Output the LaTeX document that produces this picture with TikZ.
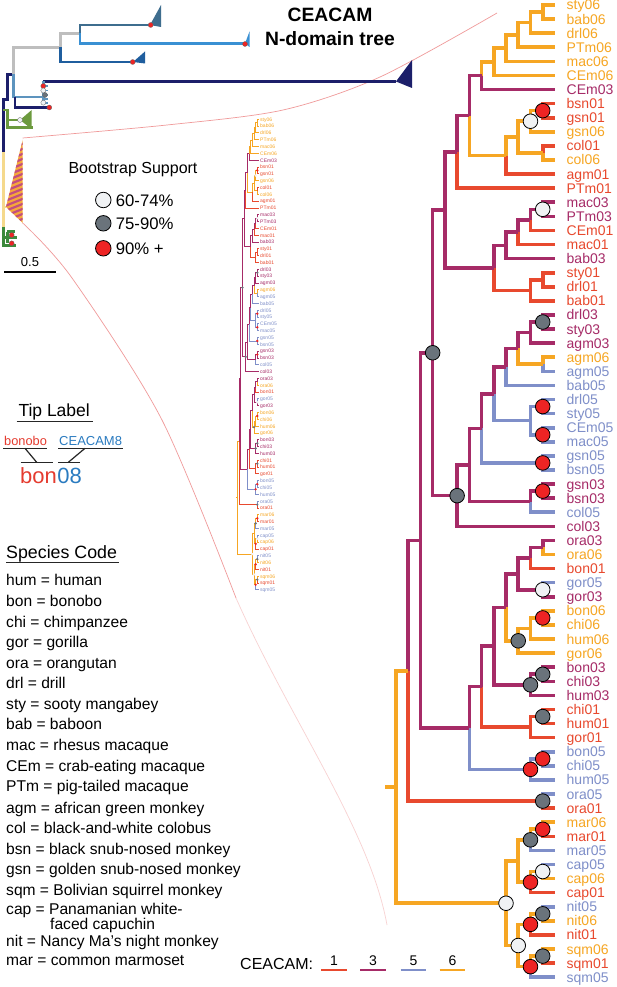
\documentclass[tikz,border=0pt]{standalone}
\usepackage{fontspec}
\setmainfont{Liberation Sans}
\usetikzlibrary{calc}
\definecolor{c1}{HTML}{E8492E}
\definecolor{c3}{HTML}{A62B67}
\definecolor{c5}{HTML}{7F8FC9}
\definecolor{c6}{HTML}{F6A623}
\definecolor{bsR}{HTML}{EE2424}
\definecolor{bsG}{HTML}{6A737B}
\definecolor{bsW}{HTML}{F0F2F4}
\definecolor{legR}{HTML}{E53B2F}
\definecolor{legB}{HTML}{2A7BC0}
\definecolor{pinkln}{HTML}{F09A9A}
\definecolor{ovGray}{HTML}{BEBEBE}
\definecolor{ovTeal}{HTML}{3E6D8E}
\definecolor{ovLBlue}{HTML}{3990D3}
\definecolor{ovMBlue}{HTML}{1F5E9E}
\definecolor{ovNavy}{HTML}{1C1F6A}
\definecolor{ovSteel}{HTML}{5D94BE}
\definecolor{ovGreen}{HTML}{6C9A3E}
\definecolor{ovDGreen}{HTML}{3C8A3C}
\definecolor{ovYel}{HTML}{F5D98C}
\definecolor{stO}{HTML}{F6A83A}
\definecolor{stP}{HTML}{C24E80}
\tikzset{
 branch/.style={line width=3.6pt},
 tiplab/.style={font=\fontsize{14}{16}\selectfont, anchor=base west, inner sep=0pt},
 bootc/.style={circle, draw=black, line width=0.8pt, minimum size=14.6pt, inner sep=0pt},
 ov/.style={line width=2.6pt},
 odot/.style={circle, draw=black!60, line width=0.3pt, minimum size=5pt, inner sep=0pt},
 zoomln/.style={draw=pinkln, line width=0.7pt},
 ulin/.style={draw=black!85, line width=1.2pt},
 spc/.style={font=\fontsize{15.6}{18}\selectfont, anchor=base west, inner sep=0pt},
}
\newcommand\treedata{%
 \foreach \tn/\ti/\tc in {sty06/0/c6, bab06/1/c6, drl06/2/c6, PTm06/3/c6, mac06/4/c6, CEm06/5/c6, CEm03/6/c3, bsn01/7/c1, gsn01/8/c1, gsn06/9/c6, col01/10/c1, col06/11/c6, agm01/12/c1, PTm01/13/c1, mac03/14/c3, PTm03/15/c3, CEm01/16/c1, mac01/17/c1, bab03/18/c3, sty01/19/c1, drl01/20/c1, bab01/21/c1, drl03/22/c3, sty03/23/c3, agm03/24/c3, agm06/25/c6, agm05/26/c5, bab05/27/c5, drl05/28/c5, sty05/29/c5, CEm05/30/c5, mac05/31/c5, gsn05/32/c5, bsn05/33/c5, gsn03/34/c3, bsn03/35/c3, col05/36/c5, col03/37/c3, ora03/38/c3, ora06/39/c6, bon01/40/c1, gor05/41/c5, gor03/42/c3, bon06/43/c6, chi06/44/c6, hum06/45/c6, gor06/46/c6, bon03/47/c3, chi03/48/c3, hum03/49/c3, chi01/50/c1, hum01/51/c1, gor01/52/c1, bon05/53/c5, chi05/54/c5, hum05/55/c5, ora05/56/c5, ora01/57/c1, mar06/58/c6, mar01/59/c1, mar05/60/c5, cap05/61/c5, cap06/62/c6, cap01/63/c1, nit05/64/c5, nit06/65/c6, nit01/66/c1, sqm06/67/c6, sqm01/68/c1, sqm05/69/c5}{%
  \coordinate (\tn) at (\TRtip,{\TRy+\TRdy*\ti});
  \node[tiplab,text=\tc] (L\tn) at (\TRlab,{\TRy+\TRdy*\ti+\TRldy}) {\tn};
 }
 \foreach \nn/\nl/\ni in {n1/12/0.5, n2/11/1.25, n3/10/2.125, n4/9/3.0625, n5/8/4.03125, n6/7/5.015625, n8/12/7.5, n9/11/8.25, n10/12/10.5, n11/10/9.375, n12/9/10.6875, n7/6/7.8515625, n13/5/10.42578, n15/12/14.5, n16/11/15.25, n17/10/16.125, n18/9/17.0625, n19/12/19.5, n20/11/20.25, n21/8/18.65625, n14/4/14.54102, n23/12/22.5, n24/11/23.25, n25/12/25.5, n26/10/24.375, n27/9/25.6875, n28/12/28.5, n29/12/30.5, n30/11/29.5, n31/8/27.59375, n32/12/32.5, n33/7/30.046875, n34/12/34.5, n35/11/35.25, n36/6/32.6484, n37/5/34.8242, n22/3/24.6826, n40/12/38.5, n41/11/39.25, n42/12/41.5, n43/10/40.375, n44/12/43.5, n45/11/44.25, n46/10/45.125, n47/9/42.75, n48/12/47.5, n49/11/48.25, n50/8/45.5, n51/12/50.5, n52/11/51.25, n53/7/48.375, n54/12/53.5, n55/11/54.25, n39/6/51.3125, n38/2/37.9976, n56/12/56.5, n57/1/47.2488, n59/12/58.5, n60/11/59.25, n61/12/61.5, n62/11/62.25, n63/10/60.75, n64/12/64.5, n65/11/65.25, n66/12/67.5, n67/11/68.25, n68/10/66.75, n69/9/63.75, n58/0/55.4994}{%
  \coordinate (\nn) at ({\TRx+\TRdx*\nl},{\TRy+\TRdy*\ni});
 }
 \coordinate (stub) at ({\TRx-0.9*\TRdx},{\TRy+\TRdy*55.4994});
 \draw[branch,c6] (stub) -- (n58);
 \foreach \bc/\bp/\bq in {c6/n1/sty06, c6/n1/bab06, c6/n2/n1, c6/n2/drl06, c6/n3/n2, c6/n3/PTm06, c6/n4/n3, c6/n4/mac06, c6/n5/n4, c6/n5/CEm06, c6/n6/n5, c3/n6/CEm03,
 c1/n8/bsn01, c1/n8/gsn01, c6/n9/n8, c6/n9/gsn06, c1/n10/col01, c6/n10/col06, c6/n11/n9, c6/n11/n10, c6/n12/n11, c1/n12/agm01, c3/n7/n6, c6/n7/n12, c3/n13/n7, c1/n13/PTm01,
 c3/n15/mac03, c3/n15/PTm03, c3/n16/n15, c1/n16/CEm01, c3/n17/n16, c1/n17/mac01, c3/n18/n17, c3/n18/bab03, c1/n19/sty01, c1/n19/drl01, c1/n20/n19, c1/n20/bab01, c3/n21/n18, c1/n21/n20, c3/n14/n13, c3/n14/n21,
 c3/n23/drl03, c3/n23/sty03, c3/n24/n23, c3/n24/agm03, c6/n25/agm06, c5/n25/agm05, c3/n26/n24, c6/n26/n25, c3/n27/n26, c5/n27/bab05, c5/n28/drl05, c5/n28/sty05, c5/n29/CEm05, c5/n29/mac05, c5/n30/n28, c5/n30/n29, c3/n31/n27, c5/n31/n30, c5/n32/gsn05, c5/n32/bsn05, c3/n33/n31, c5/n33/n32, c3/n34/gsn03, c3/n34/bsn03, c3/n35/n34, c5/n35/col05, c3/n36/n33, c3/n36/n35, c3/n37/n36, c3/n37/col03, c3/n22/n14, c3/n22/n37,
 c3/n40/ora03, c6/n40/ora06, c3/n41/n40, c1/n41/bon01, c5/n42/gor05, c3/n42/gor03, c3/n43/n41, c3/n43/n42, c6/n44/bon06, c6/n44/chi06, c6/n45/n44, c6/n45/hum06, c6/n46/n45, c6/n46/gor06, c3/n47/n43, c6/n47/n46, c3/n48/bon03, c3/n48/chi03, c3/n49/n48, c3/n49/hum03, c3/n50/n47, c3/n50/n49, c1/n51/chi01, c1/n51/hum01, c1/n52/n51, c1/n52/gor01, c3/n53/n50, c1/n53/n52, c5/n54/bon05, c5/n54/chi05, c5/n55/n54, c5/n55/hum05, c3/n39/n53, c5/n39/n55, c3/n38/n22, c3/n38/n39,
 c5/n56/ora05, c1/n56/ora01, c3/n57/n38, c1/n57/n56,
 c6/n59/mar06, c1/n59/mar01, c6/n60/n59, c5/n60/mar05, c5/n61/cap05, c6/n61/cap06, c6/n62/n61, c1/n62/cap01, c6/n63/n60, c6/n63/n62, c5/n64/nit05, c6/n64/nit06, c6/n65/n64, c1/n65/nit01, c6/n66/sqm06, c1/n66/sqm01, c6/n67/n66, c5/n67/sqm05, c6/n68/n65, c6/n68/n67, c6/n69/n63, c6/n69/n68, c6/n58/n57, c6/n58/n69}{%
  \draw[branch,\bc] (\bp) |- (\bq);
 }
 \foreach \bk/\bn in {bsR/n8, bsW/n9, bsW/n15, bsG/n23, bsR/n28, bsR/n29, bsR/n32, bsR/n34, bsG/n37, bsG/n22, bsW/n42, bsR/n44, bsG/n46, bsG/n48, bsG/n49, bsG/n51, bsR/n54, bsR/n55, bsG/n56, bsR/n59, bsG/n60, bsW/n61, bsR/n62, bsG/n64, bsR/n65, bsG/n66, bsR/n67, bsW/n68, bsW/n69}{%
  \node[bootc,fill=\bk] at (\bn) {};
 }
}
\begin{document}
\begin{tikzpicture}[x=1pt,y=-1pt]
\useasboundingbox (0,0) rectangle (617,987);
\fill[white] (0,0) rectangle (617,987);

% zoom connector arcs
\draw[zoomln] plot[smooth] coordinates {(22.7,138) (167,125) (283,110) (380,77) (497,13)};
\draw[zoomln] plot[smooth] coordinates {(22.7,223) (72,278) (162,420) (236,598)};
\draw[zoomln, draw=pinkln!45] (236,598) .. controls (290,720) and (370,830) .. (387,925);

% ---------- overview tree (top left) ----------
\draw[ov,ovNavy] (3.3,152) -- (3.3,99.3) -- (7.3,99.3) -- (7.3,74.3) -- (13.3,74.3);
\draw[ov,ovGray] (13.3,74.3) -- (13.3,47.5) -- (60.7,47.5) -- (60.7,33.5) -- (80,33.5);
\draw[ov,ovTeal] (80,33.5) -- (80,25) -- (150,25);
\fill[ovTeal] (150,25) -- (161,5) -- (161,27) -- cycle;
\draw[ov,ovLBlue] (80,33.5) -- (80,43.5) -- (245,43.5);
\fill[ovLBlue] (245,43.5) -- (249.5,31.5) -- (249.5,47) -- cycle;
\draw[ov,ovMBlue] (60.7,47.5) -- (60.7,62) -- (133,62);
\fill[ovMBlue] (133,62) -- (145,51.5) -- (145,63.5) -- cycle;
\draw[ov,ovNavy] (43.3,81.5) -- (396,81.5);
\fill[ovNavy] (396,81.5) -- (412,60) -- (412,88) -- cycle;
\draw[ov,ovSteel] (13.3,74.3) -- (13.3,97) -- (43.3,97);
\draw[ov,ovSteel] (43.3,81.5) -- (43.3,103);
\foreach \yy in {86,90.5,95,99,103} {\draw[line width=1.6pt,ovSteel] (43.3,\yy) -- (47.5,\yy);}
\draw[ov,ovNavy] (15,97) -- (15,107.5) -- (49.3,107.5);
\draw[ov,ovGreen] (3.3,110) -- (7.3,110) -- (7.3,127.3) -- (33,127.3);
\draw[ov,ovGreen] (7.3,120) -- (20,120);
\fill[ovGreen] (20,120) -- (31.7,110) -- (31.7,129) -- cycle;
\draw[ov,ovYel] (3.3,152) -- (3.3,227);
\draw[ov,ovYel] (3.3,207) -- (6,207);
\begin{scope}
\clip (6,207) -- (22.7,140) -- (22.7,223) -- cycle;
\fill[stO] (0,130) rectangle (30,230);
\foreach \k in {0,...,30} {\draw[stP, line width=2.2pt] (0,{128+5*\k}) -- (30,{116+5*\k});}
\end{scope}
\draw[ov,ovDGreen] (3.3,227) -- (3.3,245.5) -- (16,245.5);
\draw[ov,ovDGreen] (3.3,237.5) -- (7.3,237.5) -- (16.7,237.5);
\draw[ov,ovDGreen] (7.3,231.7) -- (7.3,243.3);
\draw[ov,ovDGreen] (7.3,231.7) -- (15,231.7);
\foreach \px/\py/\pc in {150.7/25/bsR, 245/44/bsR, 132.7/62/bsR, 49.3/107.5/bsR, 43.3/86/bsR, 43.3/90.5/bsW, 45/95/bsG, 43.3/102.7/bsW, 20/120/bsW, 11.7/235/bsR, 11.7/243.3/bsR}{%
  \node[odot,fill=\pc] at (\px,\py) {};
}
% scale bar
\draw[line width=2pt] (4,271.7) coordinate (sb1) -- (56,271.7) coordinate (sb2);
\node[font=\fontsize{13}{15}\selectfont, anchor=base, inner sep=0pt] (sblab) at (30,266.3) {0.5};

% ---------- title ----------
\node[font=\bfseries\fontsize{19.3}{23}\selectfont, anchor=base, inner sep=0pt] (t1) at (330,21.9) {CEACAM};
\node[font=\bfseries\fontsize{19.3}{23}\selectfont, anchor=base, inner sep=0pt] (t2) at (330,45.2) {N-domain tree};

% ---------- bootstrap legend ----------
\node[font=\fontsize{16}{18}\selectfont, anchor=base west, inner sep=0pt] (bshead) at (68.3,174) {Bootstrap Support};
\node[bootc,fill=bsW,minimum size=15.5pt] (bw) at (103.3,200) {};
\node[bootc,fill=bsG,minimum size=15.5pt] (bg) at (103.3,223.3) {};
\node[bootc,fill=bsR,minimum size=15.5pt] (br) at (103.3,248.3) {};
\node[font=\fontsize{16.7}{18}\selectfont, anchor=base west, inner sep=0pt] at (115.7,206) {60-74\%};
\node[font=\fontsize{16.7}{18}\selectfont, anchor=base west, inner sep=0pt] at (115.7,229.3) {75-90\%};
\node[font=\fontsize{16.7}{18}\selectfont, anchor=base west, inner sep=0pt] at (115.7,254.3) {90\% +};

% ---------- small overview tree ----------
\begin{scope}[branch/.style={line width=0.9pt},
  tiplab/.style={font=\fontsize{5}{6}\selectfont, anchor=base west, inner sep=0pt},
  bootc/.style={circle, draw=none, minimum size=2.6pt, inner sep=0pt}]
\def\TRx{237.5}\def\TRdx{1.65}\def\TRy{119.3}\def\TRdy{6.82}\def\TRtip{258.5}\def\TRlab{260}\def\TRldy{1.8}
\treedata
\end{scope}

% ---------- main tree ----------
\begin{scope}
\def\TRx{396}\def\TRdx{12.225}\def\TRy{5}\def\TRdy{14.09}\def\TRtip{555}\def\TRlab{566.5}\def\TRldy{5}
\treedata
\end{scope}

% ---------- tip label legend ----------
\node[font=\fontsize{17.5}{20}\selectfont, anchor=base west, inner sep=0pt] (tiphead) at (18.3,416.3) {Tip Label};
\draw[ulin] (16.7,421.7) -- (92.7,421.7);
\node[font=\fontsize{12.8}{14}\selectfont, text=legR, anchor=base west, inner sep=0pt] (lgsp) at (4,445.3) {bonobo};
\node[font=\fontsize{13}{14}\selectfont, text=legB, anchor=base west, inner sep=0pt] (lgce) at (59,445.3) {CEACAM8};
\draw[ulin] (3.3,448.3) coordinate (u1a) -- (47.3,448.3) coordinate (u1b);
\draw[ulin] (58.3,448.3) coordinate (u2a) -- (122.7,448.3) coordinate (u2b);
\draw[ulin] (20.7,462.3) coordinate (u3a) -- (52.7,462.3) coordinate (u3b);
\draw[ulin] (58.3,462.3) coordinate (u4a) -- (80,462.3) coordinate (u4b);
\coordinate (d1a) at (25,448.3); \coordinate (d1b) at (36.7,462.3);
\coordinate (d2a) at (85,448.3); \coordinate (d2b) at (68.3,462.3);
\draw[ulin] (d1a) -- (d1b);
\draw[ulin] (d2a) -- (d2b);
\node[font=\fontsize{22}{24}\selectfont, text=legR, anchor=base west, inner sep=0pt] (lgbon) at (20,483.3) {bon};
\node[font=\fontsize{22}{24}\selectfont, text=legB, anchor=base west, inner sep=0pt] (lg08) at (lgbon.base east) {08};

% ---------- species code ----------
\node[font=\fontsize{17.8}{20}\selectfont, anchor=base west, inner sep=0pt] (sphead) at (6,558.5) {Species Code};
\draw[ulin] (6,562.7) -- (119.3,562.7);
\foreach \st/\sy [count=\si] in {hum = human/585.5, bon = bonobo/606.3, chi = chimpanzee/627, gor = gorilla/647.5, ora = orangutan/668, drl = drill/688.7, sty = sooty mangabey/709.2, bab = baboon/729.9, mac = rhesus macaque/750.4, CEm = crab-eating macaque/771, PTm = pig-tailed macaque/791.6, agm = african green monkey/813.5, col = black-and-white colobus/833.8, bsn = black snub-nosed monkey/854.2, gsn = golden snub-nosed monkey/874.4, sqm = Bolivian squirrel monkey/895, cap = Panamanian white-/914.2, nit = Nancy Ma’s night monkey/946.3, mar = common marmoset/965.4}{%
  \node[spc] (sp\si) at (6,\sy) {\st};
}
\node[spc] (spfc) at (50,929.4) {faced capuchin};

% ---------- CEACAM colour legend ----------
\node[font=\fontsize{16}{18}\selectfont, anchor=base west, inner sep=0pt] (cclab) at (240,969) {CEACAM:};
\foreach \lc/\lx/\ln in {c1/334/1, c3/373/3, c5/413.4/5, c6/452.5/6}{%
  \node[font=\fontsize{14}{16}\selectfont, anchor=base, inner sep=0pt] at (\lx,965.3) {\ln};
  \draw[\lc, line width=2pt] ({\lx-12.8},969.5) -- ({\lx+12.8},969.5);
}
\end{tikzpicture}
\end{document}
